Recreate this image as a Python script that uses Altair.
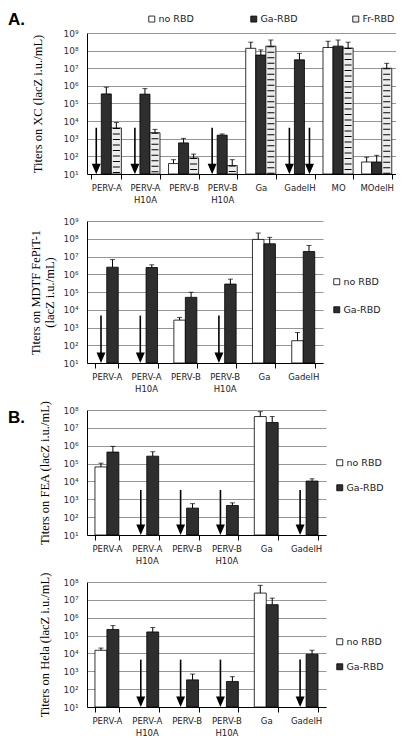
import altair as alt
import pandas as pd

# ---------------- data ----------------
cats8 = ["PERV-A", "PERV-A H10A", "PERV-B", "PERV-B H10A", "Ga", "GadelH", "MO", "MOdelH"]
cats6 = cats8[:6]
series3 = ["no RBD", "Ga-RBD", "Fr-RBD"]
series2 = ["no RBD", "Ga-RBD"]

# Titers on XC (None = below detection, shown by an arrow)
xc_no = [None, None, 39, None, 1.35e8, None, 1.5e8, 48]
xc_no_err = [None, None, 65, None, 3.0e8, None, 3.4e8, 89]
xc_ga = [3.5e5, 3.4e5, 580, 1600, 5.6e7, 3.0e7, 1.8e8, 48]
xc_ga_err = [8.4e5, 7.0e5, 1050, 1870, 1.1e8, 7.0e7, 4.0e8, 115]
xc_fr = [4.1e3, 2.2e3, 81, 30, 1.8e8, None, 1.4e8, 1.0e7]
xc_fr_err = [8.3e3, 3.4e3, 135, 65, 4.0e8, None, 3.0e8, 1.9e7]

# Titers on MDTF FePiT-1
mdtf_no = [None, None, 2.6e3, None, 9.2e7, 180]
mdtf_no_err = [None, None, 3.7e3, None, 2.1e8, 520]
mdtf_ga = [2.5e6, 2.4e6, 5.0e4, 2.8e5, 5.2e7, 1.9e7]
mdtf_ga_err = [6.7e6, 3.4e6, 9.6e4, 5.3e5, 1.2e8, 4.2e7]

# Titers on FEA
fea_no = [6.5e4, None, None, None, 4.3e7, None]
fea_no_err = [1.05e5, None, None, None, 8.1e7, None]
fea_ga = [4.4e5, 2.6e5, 320, 450, 2.0e7, 1.05e4]
fea_ga_err = [9.2e5, 4.6e5, 570, 630, 4.3e7, 1.4e4]

# Titers on Hela
hela_no = [1.5e4, None, None, None, 2.4e7, None]
hela_no_err = [2.0e4, None, None, None, 6.5e7, None]
hela_ga = [2.2e5, 1.6e5, 330, 270, 5.4e6, 9.0e3]
hela_ga_err = [3.6e5, 2.8e5, 700, 500, 1.25e7, 1.5e4]

arrow_tops = {"XC": 4.2e3, "MDTF": 4.7e3, "FEA": 3.3e3, "Hela": 4.5e3}

fills = {"no RBD": "white", "Ga-RBD": "#2e2e2e", "Fr-RBD": "#ececec"}

SANS = "DejaVu Sans"
SERIF = "Liberation Serif"
SUP = "['\u2070','\u00b9','\u00b2','\u00b3','\u2074','\u2075','\u2076','\u2077','\u2078','\u2079']"


def panel(cats, series, vals, errs, atop, ymax_exp, width, height, legend, ytitle,
          title_pad, pin, pout, tag=None):
    rows = []
    for s, vs, es in zip(series, vals, errs):
        for c, v, e in zip(cats, vs, es):
            rows.append(dict(cat=c, series=s, value=v, err=e, base=10.0,
                             nd=v is None, top=atop, tail=10 ** 1.55, head=10 ** 1.29))
    df = pd.DataFrame(rows)
    meas = df[~df.nd].copy()
    nd = df[df.nd].copy()

    xscale = alt.Scale(paddingInner=pin, paddingOuter=pout)
    xaxis = alt.Axis(title=None, labelAngle=0, labelExpr="split(datum.label, ' ')",
                     tickBand="extent", tickSize=5, tickColor="black", domainColor="black",
                     labelFont=SANS, labelFontSize=8.5, labelColor="#222", labelPadding=4,
                     labelLineHeight=12.5, grid=False)
    x = alt.X("cat:N", sort=cats, scale=xscale, axis=xaxis)
    xo = alt.XOffset("series:N", sort=series, scale=alt.Scale(domain=series))
    yscale = alt.Scale(type="log", domain=[10, 10 ** ymax_exp], nice=False)
    yaxis = alt.Axis(title=ytitle, values=[10 ** k for k in range(1, ymax_exp + 1)],
                     labelExpr="'10' + " + SUP + "[round(log(datum.value)/LN10)]",
                     ticks=False, domainColor="black", gridColor="#8a8a8a", gridWidth=0.9,
                     labelFont=SANS, labelFontSize=9, labelColor="#333", labelPadding=9,
                     titleFont=SERIF, titleFontSize=12.5, titleFontWeight="normal",
                     titleColor="black", titlePadding=title_pad)

    def Y(field):
        return alt.Y(field, scale=yscale, axis=yaxis)

    bars = alt.Chart(meas).mark_bar(stroke="black", strokeWidth=0.8).encode(
        x=x, xOffset=xo, y=Y("value:Q"), y2="base:Q",
        fill=alt.Fill("series:N", sort=series,
                      scale=alt.Scale(domain=series, range=[fills[s] for s in series]),
                      legend=legend),
    )
    layers = [bars]
    if "Fr-RBD" in series:
        hatch = alt.Chart(meas[meas.series == "Fr-RBD"]).mark_rule(
            color="black", strokeWidth=7, strokeDash=[1, 4.5]).encode(
            x=x, xOffset=xo, y=Y("value:Q"), y2="base:Q")
        layers.append(hatch)
    ebar = alt.Chart(meas).mark_rule(color="black", strokeWidth=1).encode(
        x=x, xOffset=xo, y=Y("value:Q"), y2="err:Q")
    cap = alt.Chart(meas).mark_tick(color="black", thickness=1, size=5, orient="horizontal").encode(
        x=x, xOffset=xo, y=Y("err:Q"))
    shaft = alt.Chart(nd).mark_rule(color="black", strokeWidth=1.6).encode(
        x=x, xOffset=xo, y=Y("top:Q"), y2="tail:Q")
    head = alt.Chart(nd).mark_point(
        shape="M-0.85,-1L0.85,-1L0,1Z", filled=True, color="black", opacity=1, size=110).encode(
        x=x, xOffset=xo, y=Y("head:Q"))
    layers += [ebar, cap, shaft, head]
    if tag is not None:
        t = alt.Chart(pd.DataFrame({"t": [tag[0]]})).mark_text(
            font="Liberation Sans", fontSize=17, fontWeight="bold", align="left",
            baseline="alphabetic", color="black").encode(
            text="t:N", x=alt.value(-79),
            y=alt.YDatum(tag[1], type="quantitative", scale=yscale, axis=yaxis))
        layers.append(t)
    return alt.layer(*layers).properties(width=width, height=height)


leg_top = alt.Legend(orient="none", legendX=60, legendY=-19, direction="horizontal",
                     title=None, symbolType="square", symbolSize=36,
                     symbolStrokeColor="black", symbolStrokeWidth=0.8,
                     labelFont=SANS, labelFontSize=9.5, labelColor="#222",
                     columns=3, gridAlign="all", columnPadding=53, labelOffset=2)


def leg_right(x, y, rp):
    return alt.Legend(orient="none", legendX=x, legendY=y, direction="vertical",
                      title=None, symbolType="square", symbolSize=36,
                      symbolStrokeColor="black", symbolStrokeWidth=0.8,
                      labelFont=SANS, labelFontSize=9.5, labelColor="#222",
                      rowPadding=rp, labelOffset=2)


p1 = panel(cats8, series3, [xc_no, xc_ga, xc_fr], [xc_no_err, xc_ga_err, xc_fr_err],
           arrow_tops["XC"], 9, 309, 141, leg_top, "Titers on XC  (lacZ i.u./mL)", 18,
           0.22, 0.11, tag=("A.", 10 ** 9.45))
p2 = panel(cats6, series2, [mdtf_no, mdtf_ga], [mdtf_no_err, mdtf_ga_err],
           arrow_tops["MDTF"], 9, 236, 142, leg_right(245, 56, 17),
           ["Titers on MDTF FePiT-1", "(lacZ i.u./mL)"], 6, 0.415, 0.21)
p3 = panel(cats6, series2, [fea_no, fea_ga], [fea_no_err, fea_ga_err],
           arrow_tops["FEA"], 8, 239, 125, leg_right(248, 48, 14),
           "Titers on FEA (lacZ i.u./mL)", 11, 0.4, 0.2, tag=("B.", 10 ** 7.25))
p4 = panel(cats6, series2, [hela_no, hela_ga], [hela_no_err, hela_ga_err],
           arrow_tops["Hela"], 8, 239, 125, leg_right(248, 55, 14),
           "Titers on Hela  (lacZ i.u./mL)", 11, 0.4, 0.2)

chart = alt.vconcat(p1, p2, p3, p4, spacing=47, bounds="flush").resolve_scale(
    fill="independent", x="independent", y="independent", xOffset="independent"
).properties(padding={"left": 0, "top": 3, "right": 0, "bottom": 0}).configure_view(stroke=None)

chart.save("out.html", embed_options={"renderer": "svg", "actions": False})
